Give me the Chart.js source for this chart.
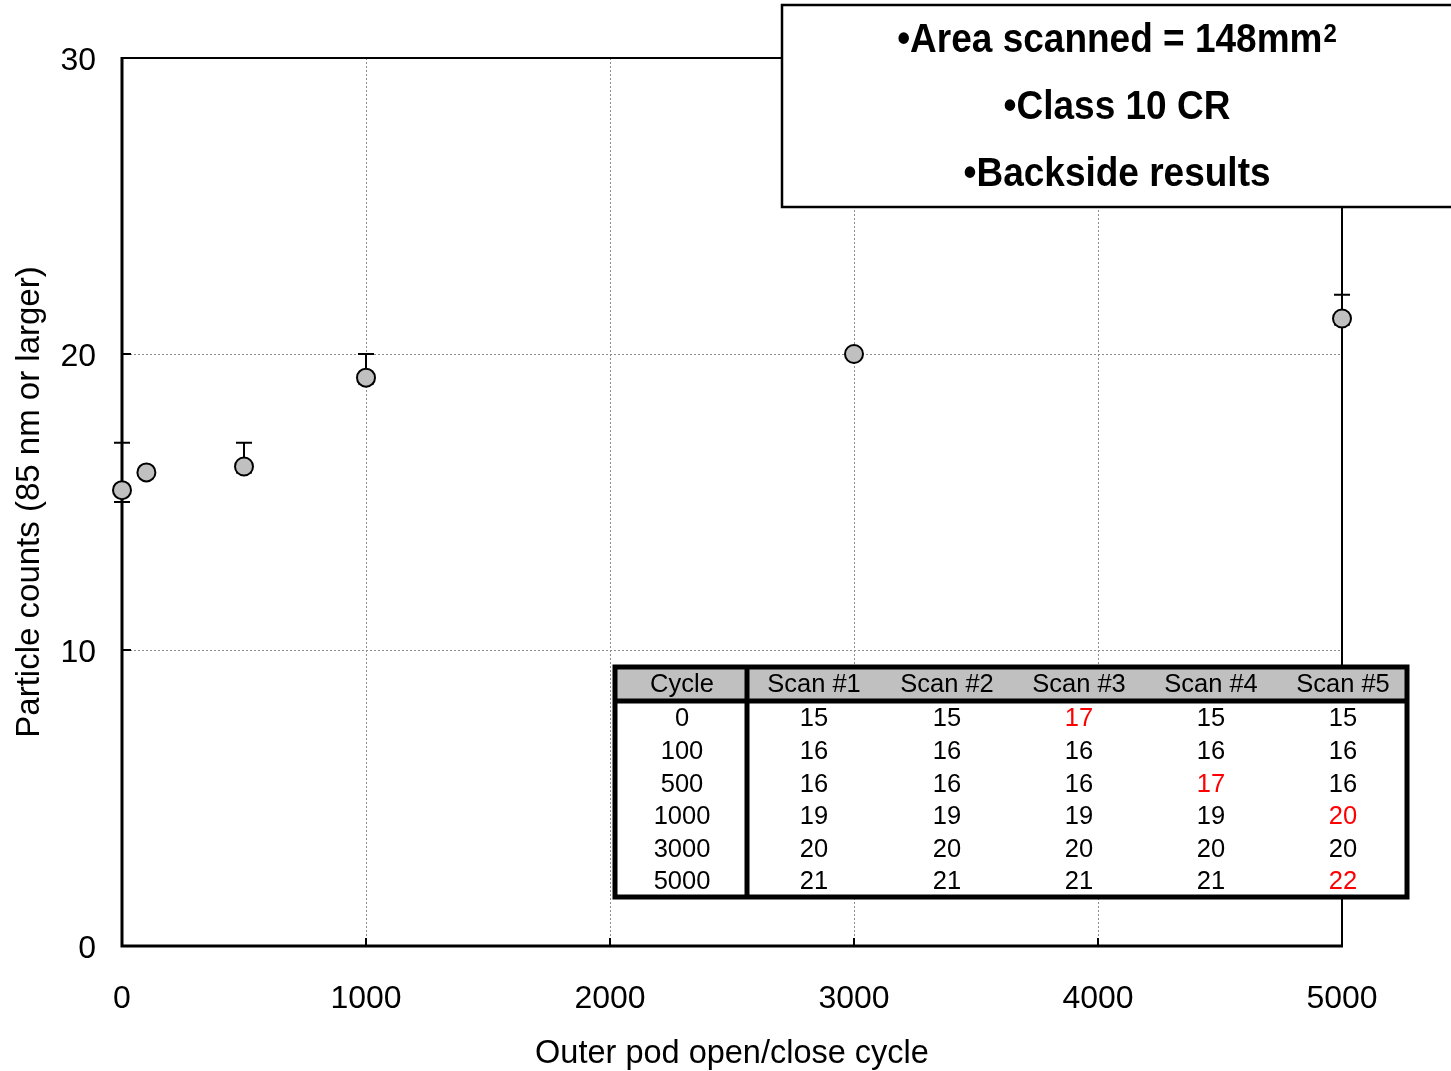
<!DOCTYPE html>
<html>
<head>
<meta charset="utf-8">
<script src="https://cdn.jsdelivr.net/npm/chart.js@4/dist/chart.umd.min.js"></script>
<style>
  html, body { margin: 0; padding: 0; background: #fff; }
</style>
</head>
<body>
<canvas id="chart" width="1451" height="1071"></canvas>
<script>
// values
const cycles = [0, 100, 500, 1000, 3000, 5000];
const scan1 = [15, 16, 16, 19, 20, 21];
const scan2 = [15, 16, 16, 19, 20, 21];
const scan3 = [17, 16, 16, 19, 20, 21];
const scan4 = [15, 16, 17, 19, 20, 21];
const scan5 = [15, 16, 16, 20, 20, 22];
const scanNames = ["Scan #1", "Scan #2", "Scan #3", "Scan #4", "Scan #5"];
const noteLines = ["•Area scanned = 148mm", "•Class 10 CR", "•Backside results"];
const noteSup = ["2", "", ""];

const scans = [scan1, scan2, scan3, scan4, scan5];
const meanVals = cycles.map((c, i) => scans.reduce((s, a) => s + a[i], 0) / scans.length);
const minVals = cycles.map((c, i) => Math.min(...scans.map(a => a[i])));
const maxVals = cycles.map((c, i) => Math.max(...scans.map(a => a[i])));

const FONT = "'Liberation Sans', Arial, sans-serif";

const errorBars = {
  id: "errorBars",
  beforeDatasetsDraw(chart) {
    const { ctx, scales: { x, y } } = chart;
    ctx.save();
    ctx.strokeStyle = "#000";
    ctx.lineWidth = 2;
    cycles.forEach((c, i) => {
      const px = x.getPixelForValue(c);
      const top = y.getPixelForValue(maxVals[i]);
      const bot = y.getPixelForValue(minVals[i]);
      ctx.beginPath();
      ctx.moveTo(px, top); ctx.lineTo(px, bot);
      ctx.moveTo(px - 8, top); ctx.lineTo(px + 8, top);
      ctx.moveTo(px - 8, bot); ctx.lineTo(px + 8, bot);
      ctx.stroke();
    });
    ctx.restore();
  }
};

const frame = {
  id: "frame",
  beforeDatasetsDraw(chart) {
    const { ctx, chartArea: a, scales: { x, y } } = chart;
    ctx.save();
    ctx.strokeStyle = "#000";
    ctx.lineWidth = 2;
    ctx.beginPath();
    ctx.moveTo(a.left, a.top); ctx.lineTo(a.right, a.top); ctx.lineTo(a.right, a.bottom);
    ctx.stroke();
    ctx.lineWidth = 3;
    ctx.beginPath();
    ctx.moveTo(a.left, a.top - 1); ctx.lineTo(a.left, a.bottom); ctx.lineTo(a.right + 1, a.bottom);
    ctx.stroke();
    // inner tick marks
    ctx.lineWidth = 2;
    ctx.beginPath();
    x.ticks.forEach(t => {
      const px = x.getPixelForValue(t.value);
      ctx.moveTo(px, a.bottom); ctx.lineTo(px, a.bottom - 8);
    });
    y.ticks.forEach(t => {
      const py = y.getPixelForValue(t.value);
      ctx.moveTo(a.left, py); ctx.lineTo(a.left + 9, py);
    });
    ctx.stroke();
    ctx.restore();
  }
};

const overlays = {
  id: "overlays",
  afterDraw(chart) {
    const ctx = chart.ctx;
    ctx.save();

    // note box, top right
    ctx.fillStyle = "#fff";
    ctx.fillRect(782, 5, 680, 202);
    ctx.strokeStyle = "#000";
    ctx.lineWidth = 2.5;
    ctx.strokeRect(782, 5, 680, 202);
    ctx.fillStyle = "#000";
    ctx.textBaseline = "middle";
    ctx.textAlign = "left";
    [41, 108, 175].forEach((cy, i) => {
      const big = "bold 37px " + FONT, small = "bold 24px " + FONT;
      ctx.font = big;
      const w1 = ctx.measureText(noteLines[i]).width;
      ctx.font = small;
      const w2 = noteSup[i] ? ctx.measureText(noteSup[i]).width + 1 : 0;
      const x0 = 1117 - (w1 + w2) / 2;
      ctx.save();
      ctx.translate(0, cy);
      ctx.scale(1, 1.1);
      ctx.font = big;
      ctx.fillText(noteLines[i], x0, 0);
      if (noteSup[i]) {
        ctx.font = small;
        ctx.fillText(noteSup[i], x0 + w1 + 1, -6);
      }
      ctx.restore();
    });

    // scan table
    const L = 615, R = 1407, T = 667, B = 897, sep = 747, hdr = 701;
    ctx.fillStyle = "#fff";
    ctx.fillRect(L, T, R - L, B - T);
    ctx.fillStyle = "#c0c0c0";
    ctx.fillRect(L, T, R - L, hdr - T);
    ctx.strokeStyle = "#000";
    ctx.lineWidth = 5;
    ctx.strokeRect(L, T, R - L, B - T);
    ctx.beginPath();
    ctx.moveTo(L, hdr); ctx.lineTo(R, hdr);
    ctx.moveTo(sep, T); ctx.lineTo(sep, B);
    ctx.stroke();

    const colX = [682, 814, 947, 1079, 1211, 1343];
    const rowY = [719, 752, 785, 817, 850, 882];
    ctx.textAlign = "center";
    ctx.font = "25.5px " + FONT;
    ctx.fillStyle = "#000";
    ctx.fillText("Cycle", colX[0], 685);
    scanNames.forEach((n, j) => ctx.fillText(n, colX[j + 1], 685));
    cycles.forEach((c, i) => {
      ctx.fillStyle = "#000";
      ctx.fillText(String(c), colX[0], rowY[i]);
      scans.forEach((s, j) => {
        ctx.fillStyle = s[i] > minVals[i] ? "#ff0000" : "#000";
        ctx.fillText(String(s[i]), colX[j + 1], rowY[i]);
      });
    });
    ctx.restore();
  }
};

new Chart(document.getElementById("chart").getContext("2d"), {
  type: "scatter",
  data: {
    datasets: [{
      data: cycles.map((c, i) => ({ x: c, y: meanVals[i] })),
      pointStyle: "circle",
      pointRadius: 9,
      pointHoverRadius: 9,
      backgroundColor: "#c0c0c0",
      borderColor: "#000",
      borderWidth: 2,
      showLine: false,
      clip: false
    }]
  },
  options: {
    responsive: false,
    animation: false,
    events: [],
    layout: { padding: { top: 58, right: 109, left: 0, bottom: 0 } },
    plugins: { legend: { display: false }, tooltip: { enabled: false } },
    scales: {
      x: {
        type: "linear",
        min: 0, max: 5000,
        afterFit: s => { s.height = 125; },
        ticks: {
          stepSize: 1000, color: "#000", font: { family: FONT, size: 32 }, padding: 34,
          callback: v => String(v)
        },
        grid: { color: "#8c8c8c", lineWidth: 1, drawTicks: false },
        border: { display: false, dash: [2, 2] },
        title: {
          display: true, text: "Outer pod open/close cycle", color: "#000",
          font: { family: FONT, size: 32.5 }, padding: { top: 0, bottom: -3 }
        }
      },
      y: {
        min: 0, max: 30,
        afterFit: s => { s.width = 122; },
        ticks: { stepSize: 10, color: "#000", font: { family: FONT, size: 32 }, padding: 26, labelOffset: 3 },
        grid: { color: "#8c8c8c", lineWidth: 1, drawTicks: false },
        border: { display: false, dash: [2, 2] },
        title: {
          display: true, text: "Particle counts (85 nm or larger)", color: "#000",
          font: { family: FONT, size: 33 }, padding: { top: 10, bottom: 0 }
        }
      }
    }
  },
  plugins: [frame, errorBars, overlays]
});
</script>
</body>
</html>
